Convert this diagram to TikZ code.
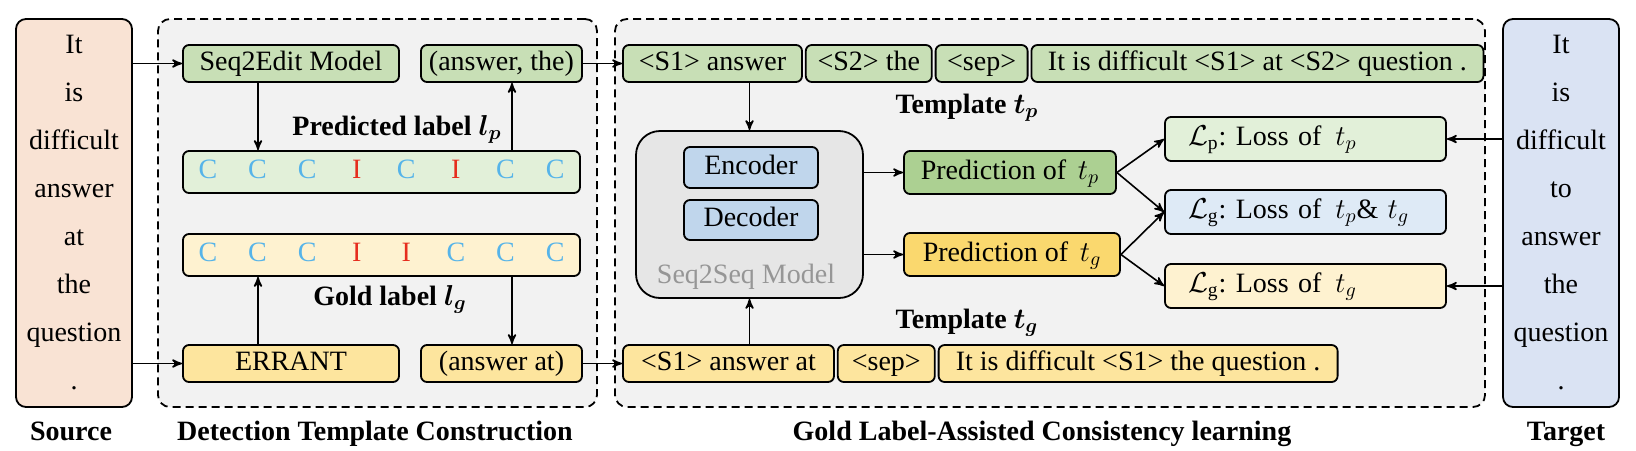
\documentclass[tikz,border=0pt]{standalone}
\usepackage{fontspec}
\setmainfont{Liberation Serif}
\usepackage{amsmath,amssymb}
\usepackage{tikz}
\usetikzlibrary{arrows,positioning}
\frenchspacing
\definecolor{my_src}{RGB}{249,227,212}
\definecolor{my_tgt}{RGB}{218,227,243}
\definecolor{my_back}{RGB}{242,242,242}
\definecolor{my_green}{RGB}{200,223,182}
\definecolor{my_lgreen}{RGB}{226,240,217}
\definecolor{my_dgreen}{RGB}{172,208,146}
\definecolor{my_gold}{RGB}{253,229,158}
\definecolor{my_lgold}{RGB}{254,242,208}
\definecolor{my_dgold}{RGB}{250,216,110}
\definecolor{my_blue}{RGB}{192,214,236}
\definecolor{my_lblue}{RGB}{222,234,246}
\definecolor{my_gray}{RGB}{230,230,230}
\definecolor{my_dgray}{RGB}{150,150,150}
\definecolor{my_cyan}{RGB}{86,180,233}
\definecolor{my_red}{RGB}{230,45,30}
\newcommand{\bfont}{\fontsize{14}{16}\selectfont}
\newcommand{\labc}{\makebox[24.8pt]{\color{my_cyan}C}}
\newcommand{\labi}{\makebox[24.8pt]{\color{my_red}I}}
\tikzset{
  box/.style = {draw, rounded corners=3pt, line width=0.9pt, inner sep=0pt, font=\bfont,
  minimum height=18.5pt, text height=9.5pt, text depth=3pt},
  sent/.style = {draw, line width=0.9pt, inner sep=0pt, rounded corners=5pt, minimum width=58pt,
  minimum height=194pt, align=center, font=\fontsize{14}{24}\selectfont},
  stage/.style = {draw, dash pattern=on 4pt off 2.5pt, rounded corners=6pt, line width=0.9pt,
  fill=my_back, minimum height=194pt, inner sep=0pt},
  caption/.style = {font=\bfont\bfseries, inner sep=0pt, anchor=base},
  tag/.style = {box, minimum height=21pt, minimum width=198.5pt},
  loss/.style = {box, minimum height=22pt, text width=117.5pt, inner xsep=11.5pt, align=left}
}

\begin{document}
\begin{tikzpicture}[x=0.5pt, y=-0.5pt, ->, >=stealth', line width=0.8pt]
  \useasboundingbox (0,0) rectangle (1636,450);
  % stages
  \node (dtc) [stage, minimum width=219.5pt] at (377.5,213) {};
  \node (glac) [stage, minimum width=435pt] at (1050,213) {};
  \node (src) [sent, fill=my_src] at (74,213) {It\\is\\difficult\\answer\\at\\the\\question\\.};
  \node (tgt) [sent, fill=my_tgt] at (1561,213) {It\\is\\difficult\\to\\answer\\the\\question\\.};

  % detection template construction
  \node (s2e) [box, fill=my_green, minimum width=108pt] at (291,63.5) {Seq2Edit Model};
  \node (ans1) [box, fill=my_green, minimum width=80.5pt] at (501.5,63.5) {(answer, the)};
  \node (plab) [tag, fill=my_lgreen] at (381.5,172) {\labc\labc\labc\labi\labc\labi\labc\labc};
  \node (glab) [tag, fill=my_lgold] at (381.5,255) {\labc\labc\labc\labi\labi\labc\labc\labc};
  \node (err) [box, fill=my_gold, minimum width=108pt] at (291,363.5) {ERRANT};
  \node (ans2) [box, fill=my_gold, minimum width=80.5pt] at (501.5,363.5) {(answer at)};
  \node (plabt) [caption] at (397,135) {Predicted label $\boldsymbol{l_p}$};
  \node (glabt) [caption] at (390,305) {Gold label $\boldsymbol{l_g}$};

  % templates
  \node (tp1) [box, fill=my_green, minimum width=89.5pt] at (712.5,63.5) {<S1> answer};
  \node (tp2) [box, fill=my_green, minimum width=63pt, right=1pt of tp1] {<S2> the};
  \node (tp3) [box, fill=my_green, minimum width=46pt, right=1pt of tp2] {<sep>};
  \node (tp4) [box, fill=my_green, minimum width=226pt, right=1pt of tp3]
    {It is difficult <S1> at <S2> question .};
  \node (tg1) [box, fill=my_gold, minimum width=105.5pt] at (728.5,363.5) {<S1> answer at};
  \node (tg2) [box, fill=my_gold, minimum width=48.5pt, right=1pt of tg1] {<sep>};
  \node (tg3) [box, fill=my_gold, minimum width=199.5pt, right=1pt of tg2]
    {It is difficult <S1> the question .};
  \node (tplp) [caption] at (967,113) {Template $\boldsymbol{t_p}$};
  \node (tplg) [caption] at (967,328) {Template $\boldsymbol{t_g}$};

  % seq2seq model
  \node (s2s) [box, fill=my_gray, rounded corners=12pt, minimum width=113.5pt,
    minimum height=83.5pt] at (749.5,214.5) {};
  \node (enc) [box, fill=my_blue, minimum width=67pt, minimum height=20.5pt] at (751,167.5) {Encoder};
  \node (dec) [box, fill=my_blue, minimum width=67pt, minimum height=20pt] at (751,220) {Decoder};
  \node (s2st) [caption, font=\bfont, text=my_dgray] at (746,283) {Seq2Seq Model};
  \node (ptp) [box, fill=my_dgreen, minimum width=106pt, minimum height=21.5pt]
    at (1010,172.5) {Prediction of \,$t_p$};
  \node (ptg) [box, fill=my_dgold, minimum width=108pt, minimum height=21.5pt]
    at (1012,254.5) {Prediction of \,$t_g$};

  % losses
  \node (lp) [loss, fill=my_lgreen] at (1305.5,139) {$\mathcal{L}_{\mathrm{p}}$: Loss of \,$t_p$};
  \node (lg) [loss, fill=my_lblue] at (1305.5,212) {$\mathcal{L}_{\mathrm{g}}$: Loss of \,$t_p$\& $t_g$};
  \node (lgt) [loss, fill=my_lgold] at (1305.5,286) {$\mathcal{L}_{\mathrm{g}}$: Loss of \,$t_g$};

  % captions
  \node (srct) [caption] at (71,440) {Source};
  \node (dtct) [caption] at (375,440) {Detection Template Construction};
  \node (glact) [caption] at (1042,440) {Gold Label-Assisted Consistency learning};
  \node (tgtt) [caption] at (1566,440) {Target};

  % arrows
  \coordinate (a1) at (258,0);
  \coordinate (a2) at (512,0);
  \draw (src.east |- s2e.west) -- (s2e.west);
  \draw (src.east |- err.west) -- (err.west);
  \draw (s2e.south -| a1) -- (plab.north -| a1);
  \draw (plab.north -| a2) -- (ans1.south -| a2);
  \draw (err.north -| a1) -- (glab.south -| a1);
  \draw (glab.south -| a2) -- (ans2.north -| a2);
  \draw (ans1.east) -- (tp1.west);
  \draw (ans2.east) -- (tg1.west);
  \draw (s2s.north |- tp1.south) -- (s2s.north);
  \draw (s2s.south |- tg1.north) -- (s2s.south);
  \draw (s2s.east |- ptp.west) -- (ptp.west);
  \draw (s2s.east |- ptg.west) -- (ptg.west);
  \draw (ptp.east) -- (lp.west);
  \draw (ptp.east) -- (lg.west);
  \draw (ptg.east) -- (lg.west);
  \draw (ptg.east) -- (lgt.west);
  \draw (tgt.west |- lp.east) -- (lp.east);
  \draw (tgt.west |- lgt.east) -- (lgt.east);
\end{tikzpicture}
\end{document}
